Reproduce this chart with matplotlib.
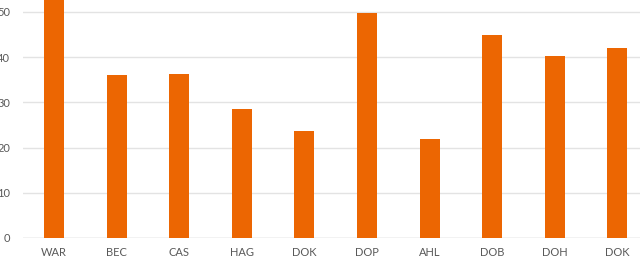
import matplotlib
matplotlib.use("Agg")
import matplotlib.pyplot as plt

categories = ["WAR", "BEC", "CAS", "HAG", "DOK", "DOP", "AHL", "DOB", "DOH", "DOK"]
values = [55.0, 36.1, 36.3, 28.5, 23.7, 49.8, 21.9, 44.9, 40.3, 42.0]
yticks = [0, 10, 20, 30, 40, 50]

plt.rcParams['font.family'] = ['Lato', 'DejaVu Sans']

fig = plt.figure(figsize=(6.4, 2.58), dpi=100)
ax = fig.add_axes([22.7/640, 1 - 238/258, 626/640, 238/258])
x = list(range(len(categories)))
ax.bar(x, values, width=0.32, color="#EC6602", zorder=3)
ax.set_xlim(-0.5, len(categories) - 0.5)
ax.set_ylim(0, 52.6)
ax.set_yticks(yticks)
ax.set_xticks(x)
ax.set_xticklabels(categories)
ax.grid(axis="y", color="#e3e3e3", linewidth=1, zorder=0)
for s in ax.spines.values():
    s.set_visible(False)
ax.axhline(0, color="#d9d9d9", linewidth=1, zorder=2)
ax.tick_params(axis="both", length=0, labelsize=8, labelcolor="#595959")
ax.tick_params(axis="x", pad=6.5)
ax.tick_params(axis="y", pad=9)
fig.savefig("out.png", dpi=100)
